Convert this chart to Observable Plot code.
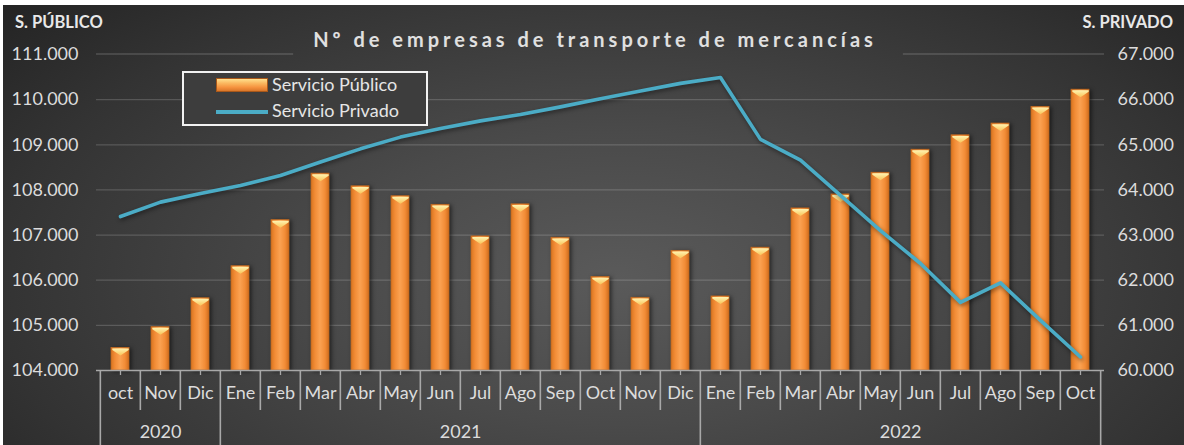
<!DOCTYPE html>
<html><head><meta charset="utf-8">
<script src="https://cdn.jsdelivr.net/npm/d3@7"></script>
<script src="https://cdn.jsdelivr.net/npm/@observablehq/plot@0.6"></script>
<style>
html,body{margin:0;padding:0;background:#fff;}
#chart{position:relative;width:1184px;height:445px;overflow:hidden;font-family:Lato,"Noto Sans",sans-serif;}
#bg{position:absolute;left:3px;top:5px;right:0;bottom:0;background:radial-gradient(ellipse 70% 95% at 52% 62%, #5a5a5a 0%, #4a4a4a 35%, #333 75%, #232323 100%);}
#plot{position:absolute;left:0;top:0;}
.side{position:absolute;color:#e8e8e8;font-weight:700;font-size:16.5px;line-height:16px;white-space:nowrap;}
#title{position:absolute;top:29px;color:#e0e0e0;font-weight:700;font-size:20px;line-height:20px;letter-spacing:4px;white-space:nowrap;}
#legend{position:absolute;left:182px;top:71px;width:246px;height:55px;box-sizing:border-box;border:2px solid #f2f2f2;background:#3d3d3d;}
#legend .t{position:absolute;left:88px;color:#e6e6e6;font-size:18px;line-height:18px;white-space:nowrap;}
</style></head><body>
<div id="chart">
  <div id="bg"></div>
  <div id="plot"></div>
  <div class="side" style="left:15px;top:14px">S. PÚBLICO</div>
  <div class="side" style="right:11px;top:14px">S. PRIVADO</div>
  <div id="title">Nº de empresas de transporte de mercancías</div>
  <div id="legend">
    <div style="position:absolute;left:32px;top:5px;width:52px;height:14px;box-sizing:border-box;border:1px solid #a9581a;background:linear-gradient(#ffe08e 0%,#fbb860 35%,#f5923e 70%,#d9772a 100%);"></div>
    <span class="t" style="top:2px">Servicio Público</span>
    <div style="position:absolute;left:32px;top:37px;width:52px;height:4px;background:#4bacc6;"></div>
    <span class="t" style="top:28px">Servicio Privado</span>
  </div>
</div>
<script>
// ---- data ----
const months = ["oct","Nov","Dic","Ene","Feb","Mar","Abr","May","Jun","Jul","Ago","Sep","Oct","Nov","Dic","Ene","Feb","Mar","Abr","May","Jun","Jul","Ago","Sep","Oct"];
const years = ["2020","2020","2020","2021","2021","2021","2021","2021","2021","2021","2021","2021","2021","2021","2021","2022","2022","2022","2022","2022","2022","2022","2022","2022","2022"];
const publico = [104500,104960,105600,106310,107330,108360,108080,107860,107670,106970,107680,106940,106070,105610,106650,105640,106720,107590,107900,108380,108890,109210,109470,109840,110220];
const privado = [63410,63730,63920,64100,64320,64620,64910,65170,65360,65530,65670,65840,66020,66190,66360,66490,65120,64660,63880,63100,62370,61510,61940,61110,60300];
const yearLabels = ["2020","2021","2022"];
const leftTicks = [104000,105000,106000,107000,108000,109000,110000,111000];
const rightTicks = [60000,61000,62000,63000,64000,65000,66000,67000];

const leftDomain = [leftTicks[0], leftTicks[leftTicks.length-1]];
const rightDomain = [rightTicks[0], rightTicks[rightTicks.length-1]];
const k = (leftDomain[1]-leftDomain[0])/(rightDomain[1]-rightDomain[0]);
const toLeft = v => leftDomain[0] + (v - rightDomain[0]) * k;
const toRight = v => rightDomain[0] + (v - leftDomain[0]) / k;

const data = months.map((m,i) => ({key:i, mes:m, year:years[i], pub:publico[i], priv:privado[i]}));
const n = data.length;

const W = 1184, H = 445, mL = 96, mR = 80, mT = 54, mB = 75;
const plotH = H - mT - mB;
const step = (W - mL - mR) / n;
const fmt = d3.formatLocale({decimal:",", thousands:".", grouping:[3], currency:["",""]}).format(",");

const axisColor = "#a8a8a8";
const gridColor = "rgba(255,255,255,0.17)";

const groups = yearLabels.map(y => {
  const idx = data.filter(d => d.year === y).map(d => d.key);
  const first = idx[0], last = idx[idx.length-1];
  const mid = (first + last) / 2;
  return {label:y, first, key: Math.floor(mid), dx: (mid % 1) ? step/2 : 0};
});
const firstKeys = new Set(groups.map(g => g.first));

const bevel = {draw(ctx){
  ctx.moveTo(-8.2, 0.6); ctx.lineTo(8.2, 0.6); ctx.lineTo(8.2, 2); ctx.lineTo(0, 7.5); ctx.lineTo(-8.2, 2); ctx.closePath();
}};

const marks = [
  Plot.ruleY(leftTicks.slice(1, -1), {stroke: gridColor, strokeWidth: 1.3}),
  Plot.barY(data, {x:"key", y1: leftDomain[0], y2:"pub", fill:"url(#barGrad)", stroke:"#c06a22", strokeWidth:0.8}),
  Plot.dot(data, {x:"key", y:"pub", symbol: bevel, r: 5, fill:"url(#bevelGrad)", stroke:"none"}),
  Plot.lineY(data, {x:"key", y: d => toLeft(d.priv), stroke:"#4bacc6", strokeWidth:3.6, curve:"linear"}),
  Plot.ruleY([leftDomain[0]], {stroke: axisColor, strokeWidth: 1.6}),
  Plot.ruleX(data, {x:"key", insetTop: plotH, insetBottom: -5, stroke: axisColor, strokeWidth: 1.3}),
  Plot.ruleX(data.filter(d => !firstKeys.has(d.key)), {x:"key", dx: -step/2, insetTop: plotH, insetBottom: -40, stroke: axisColor, strokeWidth: 1.6}),
  Plot.ruleX(data.filter(d => firstKeys.has(d.key)), {x:"key", dx: -step/2, insetTop: plotH, insetBottom: -mB, stroke: axisColor, strokeWidth: 1.6}),
  Plot.ruleX([data[n-1]], {x:"key", dx: step/2, insetTop: plotH, insetBottom: -mB, stroke: axisColor, strokeWidth: 1.6}),
  Plot.text(data, {x:"key", text:"mes", frameAnchor:"bottom", dy: 28, fill:"#dcdcdc", fontSize: 18}),
  ...groups.map(g => Plot.text([g], {x:"key", text:"label", dx: g.dx, frameAnchor:"bottom", dy: 67, fill:"#dcdcdc", fontSize: 18})),
  Plot.axisY(leftTicks, {anchor:"left", tickSize:0, tickPadding:18, tickFormat: fmt, fontSize:18, label:null}),
  Plot.axisY(leftTicks, {anchor:"right", tickSize:0, tickPadding:13, tickFormat: d => fmt(toRight(d)), fontSize:18, label:null})
];

const svg = Plot.plot({
  width: W, height: H,
  marginLeft: mL, marginRight: mR, marginTop: mT, marginBottom: mB,
  style: {background:"transparent", color:"#dcdcdc", fontFamily:"Lato, 'Noto Sans', sans-serif", fontSize:"18px", overflow:"visible"},
  x: {type:"band", domain: data.map(d => d.key), paddingInner: 0.56, paddingOuter: 0.28, label:null, axis:null},
  y: {domain: leftDomain, label:null},
  marks
});
document.getElementById("plot").appendChild(svg);

const s = d3.select(svg);
const defs = s.insert("defs", ":first-child");
const bg = defs.append("linearGradient").attr("id","barGrad").attr("x1",0).attr("x2",1).attr("y1",0).attr("y2",0);
[["0%","#d8741f"],["22%","#f28c36"],["50%","#fba252"],["78%","#f28c36"],["100%","#d06c1c"]].forEach(([o,c]) => bg.append("stop").attr("offset",o).attr("stop-color",c));
const bv = defs.append("linearGradient").attr("id","bevelGrad").attr("x1",0).attr("x2",0).attr("y1",0).attr("y2",1);
[["0%","#fff3b0"],["100%","#f9c458"]].forEach(([o,c]) => bv.append("stop").attr("offset",o).attr("stop-color",c));
s.selectAll("g[aria-label='bar']").style("filter","drop-shadow(2px 1px 2px rgba(0,0,0,0.55))");
s.selectAll("g[aria-label='line']").style("filter","drop-shadow(1px 2px 2px rgba(0,0,0,0.45))");

// title placement & top gridline with gap under the title
const title = document.getElementById("title");
const tw = title.getBoundingClientRect().width;
const cx = 595;
title.style.left = (cx - tw/2) + "px";
const yTop = svg.scale("y").apply(leftDomain[1]);
const gapL = cx - tw/2 - 20, gapR = cx + tw/2 + 26;
const gridG = s.insert("g", "g[aria-label='bar']");
[[mL, gapL],[gapR, W - mR]].forEach(([a,b]) => gridG.append("line").attr("x1",a).attr("x2",b).attr("y1",yTop).attr("y2",yTop).attr("stroke",gridColor).attr("stroke-width",1.3));
</script>
</body></html>
